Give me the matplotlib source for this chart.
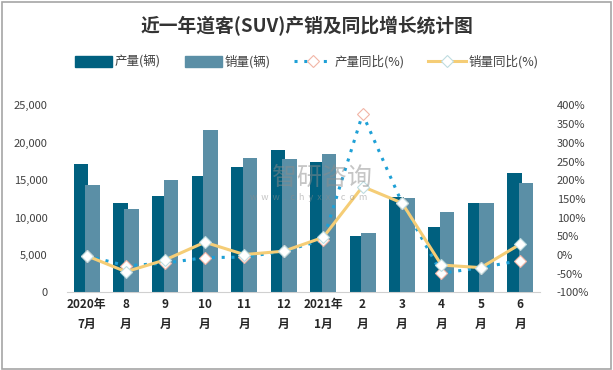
import numpy as np
import matplotlib
matplotlib.use('Agg')
import matplotlib.pyplot as plt
from matplotlib.patches import Rectangle
from matplotlib.lines import Line2D

plt.rcParams['font.family'] = ['Noto Sans CJK SC', 'DejaVu Sans']

# data
months = ['2020年\n7月', '8\n月', '9\n月', '10\n月', '11\n月', '12\n月',
          '2021年\n1月', '2\n月', '3\n月', '4\n月', '5\n月', '6\n月']
production = [17100, 11900, 12900, 15500, 16700, 19100, 17500, 7500, 12700, 8700, 12000, 15900]
sales = [14300, 11100, 15000, 21700, 18000, 17800, 18500, 7900, 12600, 10700, 12000, 14600]
prod_yoy = [-2, -29, -22, -7, -6, 10, 40, 377, 139, -49, -34, -15]
sales_yoy = [-2, -45, -13, 34, 1, 10, 47, 183, 139, -27, -34, 29]

dark = '#00607F'
light = '#5B8FA6'
blue = '#1EA0D6'
gold = '#F5CD76'
txt = '#404040'

fig = plt.figure(figsize=(6.13, 3.70), dpi=100)
fig.patches.append(Rectangle((0.003, 0.004), 0.993, 0.99, transform=fig.transFigure,
                             fill=False, edgecolor='#A6A6A6', linewidth=1.2))

ax = fig.add_axes([0.109, 0.21, 0.772, 0.505])
x = np.arange(len(months))
w = 0.37
ax.bar(x - 0.145, production, w, color=dark, zorder=2)
ax.bar(x + 0.145, sales, w, color=light, zorder=3)
ax.set_ylim(0, 25000)
ax.set_xlim(-0.5, len(months) - 0.5)
ax.set_yticks(range(0, 25001, 5000))
ax.set_yticklabels(['{:,}'.format(v) for v in range(0, 25001, 5000)])
ax.set_xticks(x)
ax.set_xticklabels(months, fontsize=8.5, fontweight='bold', color='#262626', linespacing=1.7)
ax.tick_params(axis='both', length=0)
ax.tick_params(axis='y', labelsize=8, labelcolor=txt, pad=14)
ax.tick_params(axis='x', pad=4)
for s in ['top', 'right', 'left']:
    ax.spines[s].set_visible(False)
ax.spines['bottom'].set_color('#D0D0D0')

ax2 = ax.twinx()
ax2.plot(x, prod_yoy, linestyle=(0, (1, 2.2)), linewidth=2.2, color=blue,
         marker='D', markersize=6, markerfacecolor='white', markeredgecolor='#F2B5A6',
         markeredgewidth=0.8, zorder=4)
ax2.plot(x, sales_yoy, linestyle='-', linewidth=2.2, color=gold,
         marker='D', markersize=6, markerfacecolor='white', markeredgecolor='#BFDCE0',
         markeredgewidth=0.8, zorder=5)
ax2.set_ylim(-100, 400)
ax2.set_yticks(range(-100, 401, 50))
ax2.set_yticklabels(['{}%'.format(v) for v in range(-100, 401, 50)])
ax2.tick_params(axis='y', length=0, labelsize=8, labelcolor=txt, pad=12)
for s in ['top', 'right', 'left', 'bottom']:
    ax2.spines[s].set_visible(False)

# watermark
fig.text(0.525, 0.52, '智研咨询', fontsize=18, color='#8C8C8C', alpha=0.5, ha='center', va='center')
fig.text(0.503, 0.466, 'w  w  w  .  c  h  y  x  x  .  c  o  m', fontsize=6.5, color='#8C8C8C',
         alpha=0.5, ha='center', va='center')

fig.text(0.5, 0.93, '近一年道客(SUV)产销及同比增长统计图', fontsize=13.5, fontweight='bold',
         color='#333333', ha='center', va='center')

handles = [
    Rectangle((0, 0), 1, 1, color=dark),
    Rectangle((0, 0), 1, 1, color=light),
    Line2D([], [], linestyle=(0, (1, 2.2)), linewidth=2.2, color=blue, marker='D', markersize=6,
           markerfacecolor='white', markeredgecolor='#F2B5A6', markeredgewidth=0.8),
    Line2D([], [], linestyle='-', linewidth=2.2, color=gold, marker='D', markersize=6,
           markerfacecolor='white', markeredgecolor='#BFDCE0', markeredgewidth=0.8),
]
labels = ['产量(辆)', '销量(辆)', '产量同比(%)', '销量同比(%)']
fig.legend(handles, labels, loc='center', bbox_to_anchor=(0.5, 0.832), ncol=4, frameon=False,
           fontsize=9, handlelength=3.0, handleheight=1.0, handletextpad=0.2, columnspacing=1.9,
           labelcolor='#404040')

fig.savefig('out.png', dpi=100)
